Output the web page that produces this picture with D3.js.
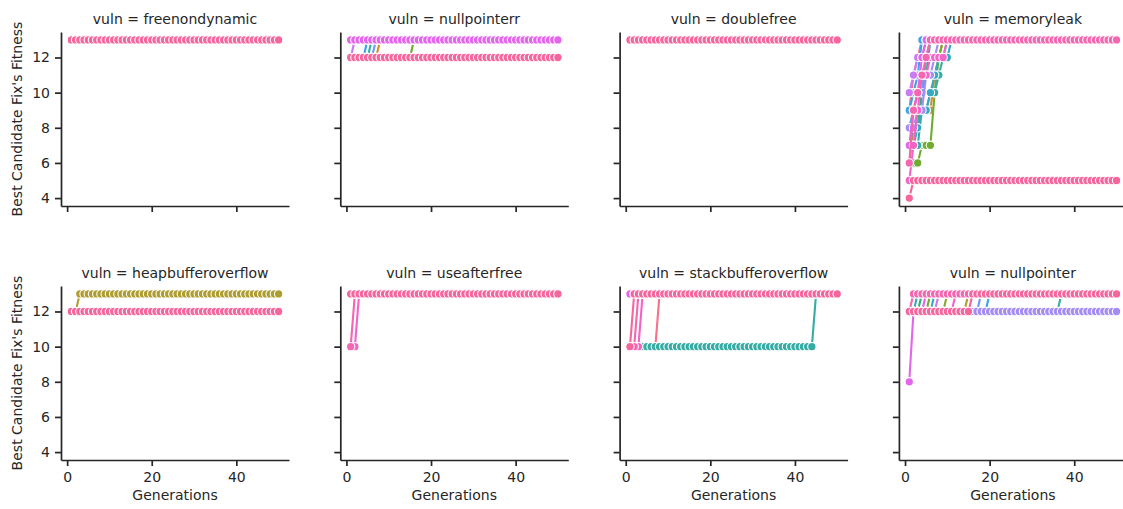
<!DOCTYPE html>
<html>
<head>
<meta charset="utf-8">
<script src="https://cdn.jsdelivr.net/npm/d3@7"></script>
<style>
  body { margin: 0; background: #fff; }
  text { font-family: "DejaVu Sans", sans-serif; fill: #262626; }
</style>
</head>
<body>
<div class="chart"></div>
<script>
// facets, in grid order
const vulns = ["freenondynamic", "nullpointerr", "doublefree", "memoryleak",
               "heapbufferoverflow", "useafterfree", "stackbufferoverflow", "nullpointer"];
const xTicks = [0, 20, 40];
const yTicks = [4, 6, 8, 10, 12];
const maxGeneration = 50;

// one color per run id (hue level)
const runColors = [
  "#f77189", "#e7804a", "#dc8932", "#c39433", "#ae9d31",
  "#8fa531", "#6fac31", "#33b07a", "#35ae95", "#36ada4",
  "#37abb6", "#38a9c5", "#3ba3ec", "#6e9bf4", "#a48cf4",
  "#cc7af4", "#e464ec", "#f463c8", "#f566b0", "#f5669f"
];

// runs per facet: [generation, best fitness] at each point where the best fitness changes
const freenondynamicRuns = [
  { run: 3, steps: [[1, 13]] },
  { run: 11, steps: [[1, 13]] },
  { run: 19, steps: [[1, 13]] }
];
const nullpointerrRuns = [
  { run: 2, steps: [[1, 12], [8, 13]] },
  { run: 6, steps: [[1, 12], [16, 13]] },
  { run: 9, steps: [[1, 12], [6, 13]] },
  { run: 12, steps: [[1, 12], [5, 13]] },
  { run: 13, steps: [[1, 12], [7, 13]] },
  { run: 15, steps: [[1, 12], [2, 13]] },
  { run: 16, steps: [[1, 13]] },
  { run: 19, steps: [[1, 12]] }
];
const doublefreeRuns = [
  { run: 5, steps: [[1, 13]] },
  { run: 19, steps: [[1, 13]] }
];
const memoryleakRuns = [
  { run: 0, steps: [[1, 9], [2, 11], [3, 12], [4, 13]] },
  { run: 2, steps: [[1, 8], [2, 9], [7, 11], [8, 12], [9, 13]] },
  { run: 4, steps: [[1, 6], [2, 8], [4, 10], [5, 12], [6, 13]] },
  { run: 6, steps: [[1, 6], [4, 7], [7, 10], [8, 12], [9, 13]] },
  { run: 7, steps: [[1, 7], [2, 8], [4, 10], [5, 11], [6, 13]] },
  { run: 9, steps: [[1, 7], [4, 9], [6, 10], [8, 11], [9, 12], [10, 13]] },
  { run: 11, steps: [[1, 7], [3, 8], [4, 9], [6, 10], [7, 11], [8, 12], [11, 13]] },
  { run: 12, steps: [[1, 9], [2, 10], [3, 11], [4, 13]] },
  { run: 13, steps: [[1, 8], [2, 9], [3, 10], [5, 12], [6, 13]] },
  { run: 14, steps: [[1, 8], [3, 9], [5, 11], [7, 12], [8, 13]] },
  { run: 15, steps: [[1, 10], [2, 11], [3, 12], [5, 13]] },
  { run: 16, steps: [[1, 7], [2, 9], [3, 10], [4, 12], [5, 13]] },
  { run: 17, steps: [[1, 5], [2, 7], [3, 9], [4, 11], [6, 12], [10, 13]] },
  { run: 18, steps: [[1, 6], [2, 9], [3, 10], [4, 11], [5, 12], [6, 13]] },
  { run: 19, steps: [[1, 4], [2, 5]] }
];
const heapbufferoverflowRuns = [
  { run: 4, steps: [[1, 12], [3, 13]] },
  { run: 19, steps: [[1, 12]] }
];
const useafterfreeRuns = [
  { run: 17, steps: [[1, 10], [3, 13]] },
  { run: 18, steps: [[1, 10], [2, 13]] },
  { run: 19, steps: [[1, 13]] }
];
const stackbufferoverflowRuns = [
  { run: 0, steps: [[1, 10], [8, 13]] },
  { run: 9, steps: [[1, 10], [45, 13]] },
  { run: 16, steps: [[1, 13]] },
  { run: 17, steps: [[1, 10], [4, 13]] },
  { run: 18, steps: [[1, 10], [3, 13]] },
  { run: 19, steps: [[1, 10], [2, 13]] }
];
const nullpointerRuns = [
  { run: 4, steps: [[1, 12], [15, 13]] },
  { run: 5, steps: [[1, 12], [10, 13]] },
  { run: 6, steps: [[1, 12], [6, 13]] },
  { run: 7, steps: [[1, 12], [4, 13]] },
  { run: 9, steps: [[1, 12], [37, 13]] },
  { run: 10, steps: [[1, 12], [3, 13]] },
  { run: 11, steps: [[1, 12], [7, 13]] },
  { run: 12, steps: [[1, 12], [20, 13]] },
  { run: 13, steps: [[1, 12], [18, 13]] },
  { run: 14, steps: [[1, 12]] },
  { run: 15, steps: [[1, 12], [8, 13]] },
  { run: 16, steps: [[1, 8], [2, 12], [5, 13]] },
  { run: 17, steps: [[1, 12], [12, 13]] },
  { run: 18, steps: [[1, 12], [2, 13]] },
  { run: 19, steps: [[1, 12], [16, 13]] }
];

const facetRuns = [freenondynamicRuns, nullpointerrRuns, doublefreeRuns, memoryleakRuns,
                   heapbufferoverflowRuns, useafterfreeRuns, stackbufferoverflowRuns, nullpointerRuns];

// best fitness of a run at every generation, from its change points
function expandRun(steps) {
  const pts = [];
  for (let g = 1; g <= maxGeneration; g++) {
    let v = steps[0][1];
    steps.forEach(s => { if (s[0] <= g) v = s[1]; });
    pts.push([g, v]);
  }
  return pts;
}

const W = 1123, H = 509;
const panelW = 228, panelH = 174;
const colStep = 279.3, rowStep = 254;
const left0 = 61, top0 = 32;
const font = "14px";
const ink = "#262626";

const svg = d3.select(".chart").append("svg")
  .attr("width", W).attr("height", H);

const x = d3.scaleLinear().domain([-1.45, 52.45]).range([0, panelW]);
const y = d3.scaleLinear().domain([3.55, 13.45]).range([panelH, 0]);
const color = d3.scaleOrdinal().domain(d3.range(runColors.length)).range(runColors);
const line = d3.line().x(d => x(d[0])).y(d => y(d[1]));

vulns.forEach((vuln, i) => {
  const col = i % 4, row = Math.floor(i / 4);
  const g = svg.append("g")
    .attr("transform", `translate(${left0 + col * colStep},${top0 + row * rowStep})`);

  const xAxis = d3.axisBottom(x).tickValues(xTicks).tickSize(6).tickSizeOuter(0).tickPadding(6);
  if (row === 0) xAxis.tickFormat("");
  const yAxis = d3.axisLeft(y).tickValues(yTicks).tickSize(6).tickSizeOuter(0).tickPadding(5);
  if (col !== 0) yAxis.tickFormat("");

  g.append("g").attr("transform", `translate(0,${panelH})`).call(xAxis);
  g.append("g").call(yAxis);
  g.selectAll(".domain, .tick line").attr("stroke", ink).attr("stroke-width", 1.7);
  g.selectAll(".tick text").style("font-size", font).style("font-family", "DejaVu Sans").attr("fill", ink);

  // runs drawn in hue order, each line with its markers
  facetRuns[i].forEach(r => {
    const pts = expandRun(r.steps);
    const c = color(r.run);
    const rg = g.append("g");
    rg.append("path").datum(pts)
      .attr("d", line)
      .attr("fill", "none")
      .attr("stroke", c)
      .attr("stroke-width", 2.1);
    rg.selectAll("circle").data(pts).enter().append("circle")
      .attr("cx", d => x(d[0]))
      .attr("cy", d => y(d[1]))
      .attr("r", 4.2)
      .attr("fill", c)
      .attr("stroke", "#fff")
      .attr("stroke-width", 1.1);
  });

  g.append("text")
    .attr("x", panelW / 2).attr("y", -8)
    .attr("text-anchor", "middle")
    .style("font-size", font)
    .text(`vuln = ${vuln}`);

  if (row === 1) {
    g.append("text")
      .attr("x", panelW / 2).attr("y", panelH + 40)
      .attr("text-anchor", "middle")
      .style("font-size", font)
      .text("Generations");
  }
  if (col === 0) {
    svg.append("text")
      .attr("transform", `translate(22,${top0 + row * rowStep + panelH / 2}) rotate(-90)`)
      .attr("text-anchor", "middle")
      .style("font-size", font)
      .text("Best Candidate Fix's Fitness");
  }
});
</script>
</body>
</html>
